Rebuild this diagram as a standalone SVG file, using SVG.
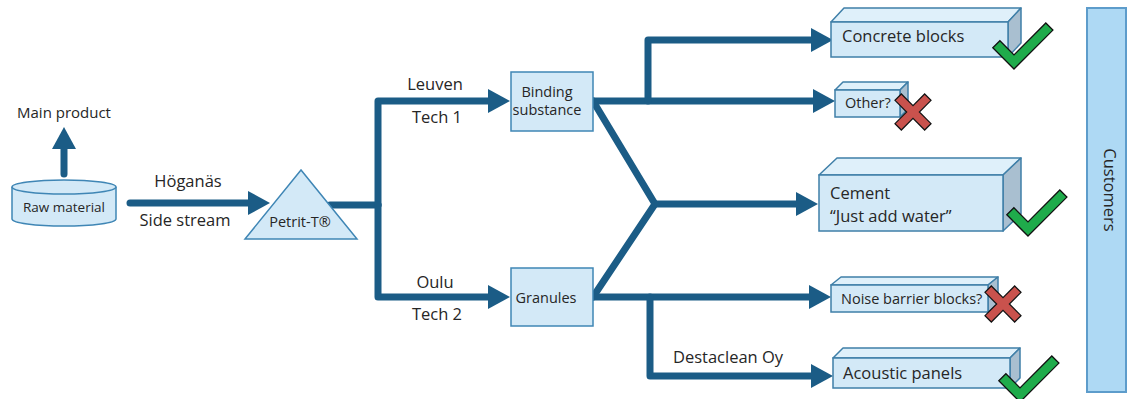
<svg xmlns="http://www.w3.org/2000/svg" width="1128" height="399" viewBox="0 0 1128 399">
  <style>
    .t { font-family: "Open Sans", "Noto Sans", sans-serif; fill: #262626; }
    .big { font-size: 16.5px; }
    .small { font-size: 14.5px; }
    .conn { fill: none; stroke: #1b5c86; stroke-width: 7; stroke-linecap: round; stroke-linejoin: round; }
    .node { fill: #d3e9f7; stroke: #3f86b5; stroke-width: 1.5; }
    .front { fill: #d3e9f7; stroke: #3f7fa8; stroke-width: 1.5; }
    .top { fill: #dff0fa; stroke: #3f7fa8; stroke-width: 1.5; stroke-linejoin: round; }
    .side { fill: #a9bfd0; stroke: #3f7fa8; stroke-width: 1.5; stroke-linejoin: round; }
    .check { fill: #1fab4b; stroke: #111; stroke-width: 1.3; stroke-linejoin: miter; }
    .cross { fill: #c9524d; stroke: #111; stroke-width: 1.2; }
  </style>
  <defs>
    <marker id="arrow" viewBox="0 0 22 24" markerWidth="22" markerHeight="24" refX="6" refY="12" orient="auto" markerUnits="userSpaceOnUse">
      <path d="M0,0 L22,12 L0,24 Z" fill="#1b5c86"/>
    </marker>
    <polygon id="checkmark" class="check" points="0,0 38.9,-38.9 31.8,-46 0,-14.1 -14.1,-28.3 -21.2,-21.2"/>
    <polygon id="xmark" class="cross" points="-4.5,-21 4.5,-21 4.5,-4.5 21,-4.5 21,4.5 4.5,4.5 4.5,21 -4.5,21 -4.5,4.5 -21,4.5 -21,-4.5 -4.5,-4.5" transform="rotate(45)"/>
  </defs>

  <!-- connectors -->
  <g id="connectors">
    <path class="conn" d="M64,174 V143" marker-end="url(#arrow)"/>
    <path class="conn" d="M130,203 H254" marker-end="url(#arrow)"/>
    <path class="conn" d="M330,205 H378"/>
    <path class="conn" d="M378,205 V101 H494" marker-end="url(#arrow)"/>
    <path class="conn" d="M378,205 V297 H494" marker-end="url(#arrow)"/>
    <path class="conn" d="M593,101 H819" marker-end="url(#arrow)"/>
    <path class="conn" d="M648,101 V40 H817" marker-end="url(#arrow)"/>
    <path class="conn" d="M593,101 L655,204 L593,297"/>
    <path class="conn" d="M655,204 H802" marker-end="url(#arrow)"/>
    <path class="conn" d="M593,297 H815" marker-end="url(#arrow)"/>
    <path class="conn" d="M650,297 V376 H817" marker-end="url(#arrow)"/>
  </g>

  <!-- edge labels -->
  <g id="edge-labels">
    <text class="t" x="64" y="118" text-anchor="middle" font-size="15">Main product</text>
    <text class="t big" x="188" y="187" text-anchor="middle">Höganäs</text>
    <text class="t big" x="185" y="226" text-anchor="middle">Side stream</text>
    <text class="t big" x="435" y="90" text-anchor="middle">Leuven</text>
    <text class="t big" x="437" y="123" text-anchor="middle">Tech 1</text>
    <text class="t big" x="435" y="288" text-anchor="middle">Oulu</text>
    <text class="t big" x="437" y="320" text-anchor="middle">Tech 2</text>
    <text class="t big" x="728" y="363" text-anchor="middle">Destaclean Oy</text>
  </g>

  <!-- raw material -->
  <g id="raw-material">
    <path class="node" d="M12,187 V219 A52,7 0 0 0 116,219 V187" fill="#c6e3f6"/>
    <ellipse class="node" cx="64" cy="187" rx="52" ry="7"/>
    <text class="t" x="64" y="212" text-anchor="middle" font-size="13.5">Raw material</text>
  </g>

  <!-- process -->
  <g id="petrit-t">
    <polygon class="node" points="301,170 245,239 357,239"/>
    <text class="t small" x="300" y="227" text-anchor="middle">Petrit-T®</text>
  </g>

  <g id="binding-substance">
    <rect class="node" x="511" y="72" width="82" height="59"/>
    <text class="t small" x="547" y="97" text-anchor="middle">Binding</text>
    <text class="t small" x="547" y="115" text-anchor="middle">substance</text>
  </g>

  <g id="granules">
    <rect class="node" x="511" y="268" width="82" height="58"/>
    <text class="t small" x="546" y="303" text-anchor="middle">Granules</text>
  </g>

  <!-- products -->
  <g id="concrete-blocks">
    <polygon class="top" points="831,22 844,8 1021,8 1008,22"/>
    <polygon class="side" points="1008,22 1021,8 1021,43 1008,57"/>
    <rect class="front" x="831" y="22" width="177" height="35"/>
    <text class="t big" x="842" y="42">Concrete blocks</text>
    <use href="#checkmark" x="1014" y="69"/>
  </g>

  <g id="other">
    <polygon class="top" points="835,90 843,82 908,82 900,90"/>
    <polygon class="side" points="900,90 908,82 908,109 900,117"/>
    <rect class="front" x="835" y="90" width="65" height="27"/>
    <text class="t small" x="845" y="108">Other?</text>
    <use href="#xmark" x="913" y="112"/>
  </g>

  <g id="cement">
    <polygon class="top" points="819,175 837,158 1021,158 1003,175"/>
    <polygon class="side" points="1003,175 1021,158 1021,214 1003,231"/>
    <rect class="front" x="819" y="175" width="184" height="56"/>
    <text class="t big" x="830" y="199">Cement</text>
    <text class="t big" x="830" y="222">“Just add water”</text>
    <use href="#checkmark" x="1028" y="236"/>
  </g>

  <g id="noise-barrier-blocks">
    <polygon class="top" points="831,285 841,277 998,277 988,285"/>
    <polygon class="side" points="988,285 998,277 998,304 988,312"/>
    <rect class="front" x="831" y="285" width="157" height="27"/>
    <text class="t small" x="841" y="304">Noise barrier blocks?</text>
    <use href="#xmark" x="1003" y="304"/>
  </g>

  <g id="acoustic-panels">
    <polygon class="top" points="833,358 843,348 1020,348 1010,358"/>
    <polygon class="side" points="1010,358 1020,348 1020,378 1010,388"/>
    <rect class="front" x="833" y="358" width="177" height="30"/>
    <text class="t big" x="843" y="379">Acoustic panels</text>
    <use href="#checkmark" x="1020" y="402"/>
  </g>

  <!-- customers -->
  <g id="customers">
    <rect x="1087" y="8" width="39" height="384" fill="#aed9f4" stroke="#5d9ccb" stroke-width="2"/>
    <text class="t big" x="0" y="0" text-anchor="middle" transform="translate(1104,190) rotate(90)">Customers</text>
  </g>
</svg>
